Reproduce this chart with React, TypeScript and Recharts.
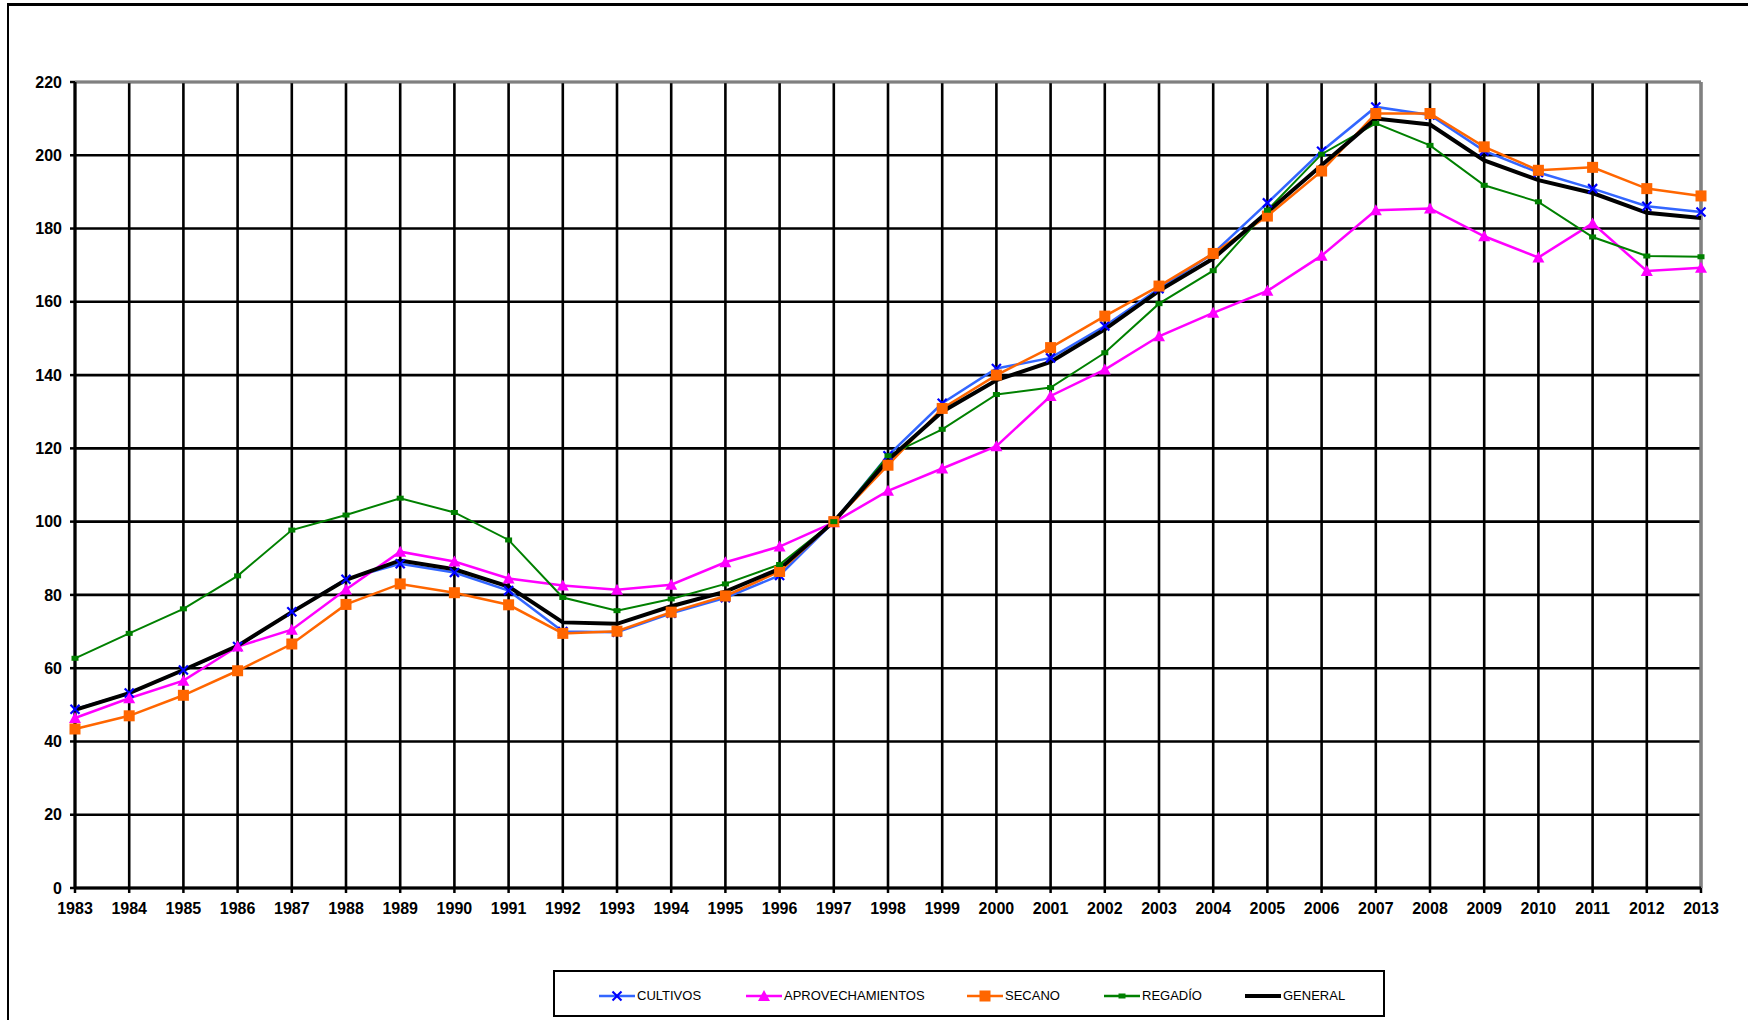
import React from 'react';
import { LineChart, Line, XAxis, YAxis, CartesianGrid, ReferenceLine } from 'recharts';

const years = [
  '1983', '1984', '1985', '1986', '1987', '1988', '1989', '1990', '1991', '1992', '1993',
  '1994', '1995', '1996', '1997', '1998', '1999', '2000', '2001', '2002', '2003', '2004',
  '2005', '2006', '2007', '2008', '2009', '2010', '2011', '2012', '2013',
];

const cultivos = [
  48.8, 53.2, 59.5, 65.9, 75.4, 84.3, 88.5, 86.1, 81.2, 70.0, 69.8,
  75.0, 79.2, 85.3, 100, 118.0, 132.3, 141.8, 144.7, 153.4, 163.6, 173.2,
  187.0, 201.1, 213.2, 211.0, 201.2, 195.3, 190.9, 186.1, 184.5,
];

const aprovechamientos = [
  46.4, 51.8, 56.6, 65.9, 70.5, 81.5, 91.8, 89.1, 84.5, 82.6, 81.4,
  82.8, 88.9, 93.2, 99.8, 108.4, 114.5, 120.6, 134.3, 141.5, 150.6, 157.0,
  163.0, 172.6, 185.0, 185.5, 177.9, 172.1, 181.4, 168.4, 169.3,
];

const secano = [
  43.4, 47.0, 52.6, 59.3, 66.6, 77.4, 83.0, 80.6, 77.3, 69.5, 70.1,
  75.3, 79.7, 86.4, 100, 115.4, 130.9, 140.0, 147.5, 156.1, 164.3, 173.2,
  183.4, 195.7, 211.4, 211.4, 202.3, 195.9, 196.7, 190.9, 188.9,
];

const regadio = [
  62.7, 69.5, 76.2, 85.2, 97.7, 101.8, 106.4, 102.5, 95.0, 79.3, 75.7,
  78.9, 83.0, 88.3, 100, 118.0, 125.2, 134.7, 136.6, 146.1, 159.5, 168.5,
  185.0, 200.3, 208.7, 202.7, 191.8, 187.3, 177.7, 172.5, 172.3,
];

const general = [
  48.6, 53.2, 59.5, 66.1, 75.3, 84.1, 89.4, 87.0, 82.3, 72.5, 72.1,
  76.9, 80.9, 87.1, 100, 116.8, 130.0, 138.6, 143.6, 152.5, 163.0, 171.8,
  184.5, 197.3, 210.0, 208.4, 198.6, 193.2, 189.7, 184.3, 182.9,
];

const yTicks = [0, 20, 40, 60, 80, 100, 120, 140, 160, 180, 200, 220];

const data = years.map((year, i) => ({
  year,
  cultivos: cultivos[i],
  aprovechamientos: aprovechamientos[i],
  secano: secano[i],
  regadio: regadio[i],
  general: general[i],
}));

type MarkerKind = 'x' | 'triangle' | 'square' | 'small' | 'none';

function Marker({ kind, cx, cy, color }: { kind: MarkerKind; cx: number; cy: number; color: string }) {
  if (kind === 'x') {
    const s = 4.5;
    return (
      <g>
        <line x1={cx - s} y1={cy - s} x2={cx + s} y2={cy + s} stroke={color} strokeWidth={2.2} />
        <line x1={cx - s} y1={cy + s} x2={cx + s} y2={cy - s} stroke={color} strokeWidth={2.2} />
      </g>
    );
  }
  if (kind === 'triangle') {
    return <polygon points={`${cx},${cy - 6} ${cx + 6},${cy + 5} ${cx - 6},${cy + 5}`} fill={color} />;
  }
  if (kind === 'square') {
    return <rect x={cx - 5.5} y={cy - 5.5} width={11} height={11} fill={color} />;
  }
  if (kind === 'small') {
    return <rect x={cx - 3.5} y={cy - 2.5} width={7} height={5} fill={color} />;
  }
  return <g />;
}

const series = [
  { key: 'cultivos', name: 'CULTIVOS', line: '#3366FF', mark: '#0000FF', width: 2.5, marker: 'x' as MarkerKind },
  { key: 'aprovechamientos', name: 'APROVECHAMIENTOS', line: '#FF00FF', mark: '#FF00FF', width: 2.5, marker: 'triangle' as MarkerKind },
  { key: 'secano', name: 'SECANO', line: '#FF6600', mark: '#FF6600', width: 2.5, marker: 'square' as MarkerKind },
  { key: 'regadio', name: 'REGADÍO', line: '#008000', mark: '#008000', width: 2, marker: 'small' as MarkerKind },
  { key: 'general', name: 'GENERAL', line: '#000000', mark: '#000000', width: 4, marker: 'none' as MarkerKind },
];

const tickStyle = { fontSize: 16, fontWeight: 700, fill: '#000', fontFamily: 'Arial, "Liberation Sans", sans-serif' };

function LegendBox() {
  return (
    <div
      style={{
        position: 'absolute',
        left: 553,
        top: 970,
        width: 832,
        height: 47,
        boxSizing: 'border-box',
        border: '2.5px solid #000',
        background: '#fff',
        fontFamily: 'Arial, "Liberation Sans", sans-serif',
        fontSize: 13,
        color: '#000',
      }}
    >
      {series.map((s, i) => {
        const lefts = [44, 191, 412, 549, 690];
        return (
          <div
            key={s.key}
            style={{ position: 'absolute', left: lefts[i], top: 15, display: 'flex', alignItems: 'center', height: 18 }}
          >
            <svg width={36} height={18} style={{ display: 'block' }}>
              <line x1={0} y1={9} x2={36} y2={9} stroke={s.line} strokeWidth={s.key === 'general' ? 4 : 2.5} />
              <Marker kind={s.marker} cx={18} cy={9} color={s.mark} />
            </svg>
            <span style={{ marginLeft: 2, lineHeight: '18px' }}>{s.name}</span>
          </div>
        );
      })}
    </div>
  );
}

export default function App() {
  return (
    <div style={{ position: 'absolute', left: 0, top: 0, width: 1748, height: 1020, overflow: 'hidden', background: '#fff' }}>
      <div
        style={{
          position: 'absolute',
          left: 7,
          top: 3,
          width: 1741,
          height: 1017,
          boxSizing: 'border-box',
          borderTop: '3px solid #000',
          borderLeft: '2px solid #000',
        }}
      />
      <div style={{ position: 'absolute', left: 0, top: 0 }}>
        <LineChart width={1748} height={1020} data={data} margin={{ top: 82, right: 47, bottom: 102, left: 15 }}>
          <CartesianGrid stroke="#000" strokeWidth={2.6} />
          <XAxis
            dataKey="year"
            interval={0}
            tick={tickStyle}
            tickSize={5}
            tickMargin={10}
            tickLine={{ stroke: '#000', strokeWidth: 2.5 }}
            axisLine={{ stroke: '#000', strokeWidth: 3 }}
            height={30}
          />
          <YAxis
            domain={[0, 220]}
            ticks={yTicks}
            interval={0}
            width={60}
            tick={tickStyle}
            tickSize={5}
            tickMargin={8}
            tickLine={{ stroke: '#000', strokeWidth: 2.5 }}
            axisLine={{ stroke: '#000', strokeWidth: 3 }}
          />
          <ReferenceLine y={220} stroke="#808080" strokeWidth={2.6} />
          <ReferenceLine x="2013" stroke="#808080" strokeWidth={3} />
          {series.map((s) => (
            <Line
              key={`l-${s.key}`}
              dataKey={s.key}
              type="linear"
              stroke={s.line}
              strokeWidth={s.width}
              dot={false}
              activeDot={false}
              isAnimationActive={false}
            />
          ))}
          {series
            .filter((s) => s.marker !== 'none')
            .map((s) => (
              <Line
                key={`m-${s.key}`}
                dataKey={s.key}
                type="linear"
                stroke="none"
                dot={(p: any) => <Marker key={`${s.key}-${p.index}`} kind={s.marker} cx={p.cx} cy={p.cy} color={s.mark} />}
                activeDot={false}
                legendType="none"
                isAnimationActive={false}
              />
            ))}
        </LineChart>
      </div>
      <LegendBox />
    </div>
  );
}
